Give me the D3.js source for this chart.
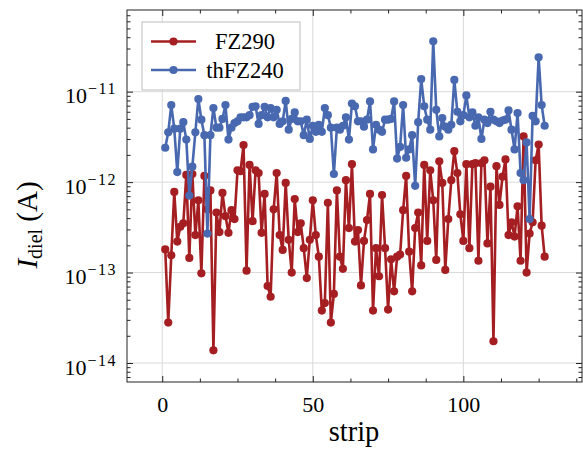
<!DOCTYPE html>
<html><head><meta charset="utf-8">
<script src="https://cdn.jsdelivr.net/npm/d3@7"></script>
<style>
html,body{margin:0;padding:0;background:#fff;}
svg{display:block;}
text{font-family:"Liberation Serif","DejaVu Serif",serif;fill:#000;}
</style></head>
<body>
<svg id="chart" width="583" height="451"></svg>
<script>
// strip numbers (x categories)
const strips = d3.range(1, 128);
// dielectric current (A), FZ290
const fz290 = [
1.8e-13,2.8e-14,1.55e-13,7.8e-13,2.2e-13,3.2e-13,3.5e-13,1.2e-12,1.45e-13,1.23e-12,
2.6e-13,6.3e-13,9.8e-14,1.17e-12,5.0e-13,8.1e-13,1.38e-14,4.6e-13,2.8e-13,7.6e-13,
4.2e-13,2.75e-13,4.9e-13,3.9e-13,1.35e-12,1.32e-12,2.57e-12,1.05e-13,1.55e-12,3.7e-13,
1.35e-12,1.26e-12,2.75e-13,7.4e-13,7.1e-14,5.4e-14,5.0e-13,1.26e-12,2.6e-13,1.78e-13,
9.8e-13,2.3e-13,1.0e-13,6.5e-13,2.8e-13,3.5e-13,1.86e-13,8.7e-14,2.3e-13,6.3e-13,
2.6e-13,1.5e-13,3.8e-14,4.6e-14,5.9e-13,2.8e-14,5.8e-14,8.1e-13,1.5e-13,1.1e-13,
1.05e-12,3.1e-13,1.58e-12,2.2e-13,2.95e-13,7.2e-14,2.24e-13,3.8e-13,7.4e-13,3.8e-14,
1.86e-13,9.1e-14,7.2e-13,1.86e-13,3.9e-14,1.4e-13,6.2e-14,1.5e-13,1.58e-13,4.9e-13,
1.17e-12,1.7e-13,6.2e-14,3.1e-13,4.6e-13,1.2e-13,1.55e-12,2.24e-13,1.35e-12,6.3e-13,
1.38e-13,1.7e-12,9.8e-13,1.07e-13,3.9e-13,1.05e-12,2.2e-12,1.26e-12,4.4e-13,2.24e-13,
1.58e-12,1.86e-13,1.58e-12,1.62e-12,1.35e-13,1.62e-12,1.74e-12,2.1e-13,8.9e-13,1.74e-14,
1.5e-12,5.6e-13,1.15e-12,1.78e-12,2.6e-13,3.6e-13,2.5e-13,5.4e-13,1.35e-13,3.2e-12,
1.0e-13,2.7e-13,3.6e-13,1.74e-12,2.6e-12,3.3e-13,1.5e-13];
// dielectric current (A), thFZ240
const thfz240 = [
2.4e-12,3.55e-12,7.1e-12,3.9e-12,1.29e-12,3.9e-12,4.6e-12,2.95e-12,7.1e-13,1.48e-12,
3.55e-12,8.3e-12,4.9e-12,3.3e-12,2.7e-13,3.3e-12,6.6e-12,4.0e-12,4.0e-12,5.0e-12,
7.1e-12,2.95e-12,4.0e-12,4.5e-12,4.7e-12,5.2e-12,5.2e-12,5.2e-12,5.5e-12,6.8e-12,
6.9e-12,4.4e-12,5.5e-12,6.8e-12,5.2e-12,6.6e-12,5.2e-12,6.3e-12,4.4e-12,4.7e-12,
7.9e-12,3.8e-12,5.0e-12,5.9e-12,4.7e-12,4.7e-12,3.3e-12,4.9e-12,3.0e-12,4.2e-12,
3.6e-12,4.3e-12,3.6e-12,6.6e-12,5.5e-12,4.0e-12,1.23e-12,4.0e-12,3.8e-12,4.2e-12,
5.2e-12,2.95e-12,7.4e-12,6.9e-12,4.7e-12,4.7e-12,4.1e-12,4.9e-12,7.8e-12,2.3e-12,
4.3e-12,3.8e-12,3.6e-12,4.9e-12,4.9e-12,5.0e-12,7.8e-12,1.82e-12,2.45e-12,7.1e-12,
1.86e-12,2.3e-12,3.3e-12,9.1e-13,4.6e-12,1.38e-11,6.9e-12,4.9e-12,3.8e-12,3.6e-11,
6.3e-12,3.2e-12,5.1e-12,4.1e-12,3.8e-12,4.3e-12,1.35e-11,6.0e-12,4.7e-12,5.5e-12,
9.1e-12,5.2e-12,5.9e-12,4.2e-12,5.2e-12,3.0e-12,4.9e-12,4.5e-12,6.0e-12,4.9e-12,
4.7e-12,4.5e-12,4.8e-12,4.9e-12,6.2e-12,3.8e-12,2.3e-12,5.8e-12,1.26e-12,1.05e-12,
2.75e-12,3.9e-13,5.4e-12,4.7e-12,2.4e-11,7.1e-12,4.2e-12];
const seriesNames = ["FZ290", "thFZ240"];
const seriesColors = ["#a51e22", "#4868b0"];
const xTicks = [0, 50, 100];
const xMinorTicks = [12.5, 25, 37.5, 62.5, 75, 87.5, 112.5, 125, 137.5];
const yTicks = [1e-14, 1e-13, 1e-12, 1e-11];
const yTickExp = ["−14", "−13", "−12", "−11"];

const svg = d3.select("#chart");
const L = 127, R = 582, T = 10, B = 382;
const x = d3.scaleLinear().domain([-11.7, 139.4]).range([L, R]);
const y = d3.scaleLog().domain([Math.pow(10, -14.21), Math.pow(10, -10.097)]).range([B, T]);

const yMinor = [];
[-15, -14, -13, -12, -11].forEach(e => { for (let m = 2; m <= 9; m++) { const v = m * Math.pow(10, e); if (v > y.domain()[0] && v < y.domain()[1]) yMinor.push(v); } });

// grid
const grid = svg.append("g").attr("stroke", "#d9d9d9").attr("stroke-width", 1);
xTicks.forEach(t => grid.append("line").attr("x1", x(t)).attr("x2", x(t)).attr("y1", T).attr("y2", B));
yTicks.forEach(t => grid.append("line").attr("x1", L).attr("x2", R).attr("y1", y(t)).attr("y2", y(t)));

// axes (ticks inward)
function styleAxis(g) { g.select(".domain").remove(); g.selectAll("line").attr("stroke", "#222"); }
svg.append("g").attr("transform", `translate(0,${B})`)
  .call(d3.axisBottom(x).tickValues(xTicks).tickSize(-6).tickPadding(14).tickFormat(d3.format("d")))
  .call(styleAxis)
  .call(g => g.selectAll("text").attr("font-size", 22).attr("font-family", "Liberation Serif").attr("dy", "0.71em"));
svg.append("g").attr("transform", `translate(0,${B})`)
  .call(d3.axisBottom(x).tickValues(xMinorTicks).tickSize(-3.5).tickFormat("")).call(styleAxis);
svg.append("g").attr("transform", `translate(0,${T})`)
  .call(d3.axisTop(x).tickValues(xTicks).tickSize(-6).tickFormat("")).call(styleAxis);
svg.append("g").attr("transform", `translate(0,${T})`)
  .call(d3.axisTop(x).tickValues(xMinorTicks).tickSize(-3.5).tickFormat("")).call(styleAxis);

const yAx = svg.append("g").attr("transform", `translate(${L},0)`)
  .call(d3.axisLeft(y).tickValues(yTicks).tickSize(-6).tickPadding(0).tickFormat(""))
  .call(styleAxis);
yAx.selectAll(".tick").append("text").each(function(d, i) {
  const t = d3.select(this).attr("x", -10).attr("y", 11).attr("text-anchor", "end")
    .attr("font-size", 22).attr("font-family", "Liberation Serif");
  t.append("tspan").text("10");
  t.append("tspan").attr("dx", 1).attr("dy", -9).attr("font-size", 16).attr("letter-spacing", 1.5).text(yTickExp[i]);
});
svg.append("g").attr("transform", `translate(${L},0)`)
  .call(d3.axisLeft(y).tickValues(yMinor).tickSize(-3.5).tickFormat("")).call(styleAxis);
svg.append("g").attr("transform", `translate(${R},0)`)
  .call(d3.axisRight(y).tickValues(yTicks).tickSize(-6).tickFormat("")).call(styleAxis);
svg.append("g").attr("transform", `translate(${R},0)`)
  .call(d3.axisRight(y).tickValues(yMinor).tickSize(-3.5).tickFormat("")).call(styleAxis);

// data
const data = [fz290, thfz240];
const line = d3.line().x((d, i) => x(strips[i])).y(d => y(d));
data.forEach((vals, k) => {
  const g = svg.append("g");
  g.append("path").datum(vals).attr("d", line).attr("fill", "none")
    .attr("stroke", seriesColors[k]).attr("stroke-width", 2.6).attr("stroke-linejoin", "round");
  g.selectAll("circle").data(vals).join("circle")
    .attr("cx", (d, i) => x(strips[i])).attr("cy", d => y(d)).attr("r", 4.1)
    .attr("fill", seriesColors[k]);
});

// frame
svg.append("rect").attr("x", L).attr("y", T).attr("width", R - L).attr("height", B - T)
  .attr("fill", "none").attr("stroke", "#222").attr("stroke-width", 1);

// legend
const lg = svg.append("g");
lg.append("rect").attr("x", 142).attr("y", 22).attr("width", 158).attr("height", 68)
  .attr("fill", "#fff").attr("stroke", "#bdbdbd").attr("stroke-width", 1);
seriesNames.forEach((n, k) => {
  const yy = 41.5 + k * 28.5;
  lg.append("line").attr("x1", 151).attr("x2", 196).attr("y1", yy).attr("y2", yy)
    .attr("stroke", seriesColors[k]).attr("stroke-width", 2.6);
  lg.append("circle").attr("cx", 173.5).attr("cy", yy).attr("r", 4.1).attr("fill", seriesColors[k]);
  lg.append("text").attr("x", 245).attr("y", yy + 7.5).attr("text-anchor", "middle")
    .attr("font-size", 22.5).text(n);
});

// axis labels
svg.append("text").attr("x", 354).attr("y", 441).attr("text-anchor", "middle")
  .attr("font-size", 28.5).text("strip");
const yl = svg.append("text").attr("transform", "translate(37,225) rotate(-90)")
  .attr("text-anchor", "middle").attr("font-size", 29);
yl.append("tspan").attr("font-style", "italic").text("I");
yl.append("tspan").attr("font-size", 20).attr("dy", 5).text("diel");
yl.append("tspan").attr("dy", -5).text(" (A)");
</script>
</body></html>
